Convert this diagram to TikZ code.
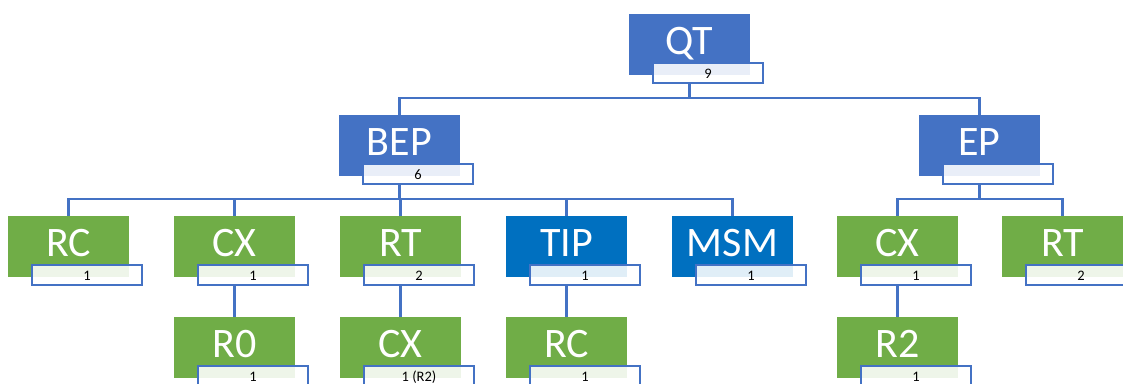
\documentclass[tikz,border=0pt]{standalone}
\usepackage{fontspec}
\setmainfont{Carlito}
\usetikzlibrary{backgrounds}
\definecolor{mblue}{HTML}{4472C4}
\definecolor{mgreen}{HTML}{70AD47}
\definecolor{tblue}{HTML}{0070C0}
\definecolor{lblue}{HTML}{4472C4}
\tikzset{
  mainbox/.style={rectangle, minimum width=121pt, minimum height=61pt, inner sep=0pt, outer sep=0pt,
    text=white, font=\fontsize{42}{42}\selectfont, text height=27pt, text depth=8pt},
  labbox/.style={rectangle, draw=lblue, line width=2.6pt, minimum width=110pt, minimum height=20pt,
    inner sep=0pt, outer sep=0pt, text=black, font=\fontsize{14.5}{14.5}\selectfont, text height=10pt, text depth=0pt},
  conn/.style={draw=lblue, line width=2.5pt}
}
\newcommand\mybox[6]{%
  \node[mainbox, fill=#4] (#1) at (#2+60.5, #3+30.5) {#5};
  \fill[white] ([shift={(23,48)}]#1.north west) rectangle ++(112,22);
  \fill[#4!12!white] ([shift={(24,49)}]#1.north west) rectangle (#1.south east);
  \node[labbox] (#1l) at ([shift={(79,59)}]#1.north west) {#6};
}
\begin{document}
\begin{tikzpicture}[x=1pt, y=-1pt]
\useasboundingbox (0,0) rectangle (1123,383);
\clip (0,0) rectangle (1123,383);
\mybox{QT}{629}{14}{mblue}{QT}{9}
\mybox{BEP}{339}{115}{mblue}{BEP}{6}
\mybox{EP}{919}{115}{mblue}{EP}{}
\mybox{RCa}{8}{216}{mgreen}{RC}{1}
\mybox{CXa}{174}{216}{mgreen}{CX}{1}
\mybox{RTa}{340}{216}{mgreen}{RT}{2}
\mybox{TIP}{506}{216}{tblue}{TIP}{1}
\mybox{MSM}{672}{216}{tblue}{MSM}{1}
\mybox{CXb}{837}{216}{mgreen}{CX}{1}
\mybox{RTb}{1002}{216}{mgreen}{RT}{2}
\mybox{RZ}{174}{317}{mgreen}{R0}{1}
\mybox{CXc}{340}{317}{mgreen}{CX}{1 (R2)}
\mybox{RCb}{506}{317}{mgreen}{RC}{1}
\mybox{RTwo}{837}{317}{mgreen}{R2}{1}
\coordinate (busA) at (0,98);
\coordinate (busB) at (0,199);
\begin{scope}[on background layer]
  \foreach \c in {BEP,EP}
    \draw[conn] (QT.center |- QTl.south) -- (QT.center |- busA) -| (\c.north);
  \foreach \c in {RCa,CXa,RTa,TIP,MSM}
    \draw[conn] (BEP.center |- BEPl.south) -- (BEP.center |- busB) -| (\c.north);
  \foreach \c in {CXb,RTb}
    \draw[conn] (EP.center |- EPl.south) -- (EP.center |- busB) -| (\c.north);
  \draw[conn] (CXa.center |- CXal.south) -- (RZ.north);
  \draw[conn] (RTa.center |- RTal.south) -- (CXc.north);
  \draw[conn] (TIP.center |- TIPl.south) -- (RCb.north);
  \draw[conn] (CXb.center |- CXbl.south) -- (RTwo.north);
\end{scope}
\end{tikzpicture}
\end{document}
